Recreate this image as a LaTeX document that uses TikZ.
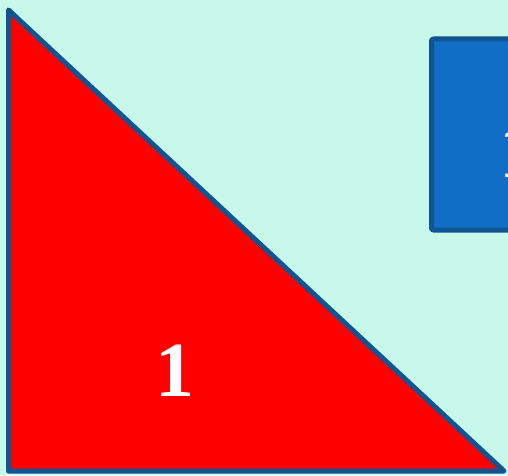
\documentclass[tikz,border=0pt]{standalone}
\usepackage{fontspec}
\setmainfont{Liberation Serif}
\definecolor{bgmint}{HTML}{C8F8EA}
\definecolor{edgeblue}{HTML}{0E5592}
\definecolor{boxblue}{HTML}{106EC6}
\begin{document}
\begin{tikzpicture}[x=1pt,y=1pt,
  piece/.style={draw=edgeblue,line width=5pt,line join=round},
  numlabel/.style={text=white,font=\bfseries\fontsize{78}{80}\selectfont,inner sep=0pt}]
\useasboundingbox (0,0) rectangle (508,475);
\clip (0,0) rectangle (508,475);
\fill[bgmint] (0,0) rectangle (508,475);
\draw[piece,fill=boxblue,rounded corners=2pt] (431.5,245) rectangle (620,436);
\node[numlabel] (b) at (519,323) {1};
\draw[piece,fill=red] (8.5,465) -- (8.5,4) -- (504,4) -- cycle;
\node[numlabel] (a) at (175,104) {1};
\end{tikzpicture}
\end{document}
